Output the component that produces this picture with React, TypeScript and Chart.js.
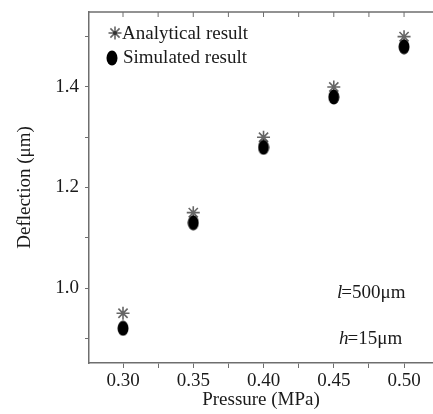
import React, { useEffect, useRef } from "react";
import { Chart, registerables } from "chart.js";

Chart.register(...registerables);

const pressures = [0.3, 0.35, 0.4, 0.45, 0.5];
const analytical = [0.95, 1.15, 1.3, 1.4, 1.5];
const simulated = [0.92, 1.13, 1.28, 1.38, 1.48];
const seriesLabels = ["Analytical result", "Simulated result"];
const xTicks = [0.3, 0.325, 0.35, 0.375, 0.4, 0.425, 0.45, 0.475, 0.5];
const xLabeled = [0.3, 0.35, 0.4, 0.45, 0.5];
const yTicks = [0.9, 1.0, 1.1, 1.2, 1.3, 1.4, 1.5];
const yLabeled = [1.0, 1.2, 1.4];
const notes = ["500μm", "15μm"];
const noteVars = ["l", "h"];

const FONT = "'Liberation Serif', 'DejaVu Serif', serif";
const AXIS = "#6e6e6e";
const TEXT = "#1a1a1a";

function makeEllipse(): HTMLCanvasElement {
  const c = document.createElement("canvas");
  c.width = 12;
  c.height = 16;
  const g = c.getContext("2d")!;
  g.fillStyle = "#000";
  g.beginPath();
  g.ellipse(6, 8, 5.5, 7.5, 0, 0, Math.PI * 2);
  g.fill();
  return c;
}

function drawStar(ctx: CanvasRenderingContext2D, x: number, y: number) {
  ctx.save();
  ctx.strokeStyle = "#666";
  ctx.lineWidth = 1.6;
  const r = 6.5;
  for (let i = 0; i < 4; i++) {
    const a = (i * Math.PI) / 4;
    ctx.beginPath();
    ctx.moveTo(x - Math.cos(a) * r, y - Math.sin(a) * r);
    ctx.lineTo(x + Math.cos(a) * r, y + Math.sin(a) * r);
    ctx.stroke();
  }
  ctx.fillStyle = "#333";
  ctx.beginPath();
  ctx.arc(x, y, 2, 0, Math.PI * 2);
  ctx.fill();
  ctx.restore();
}

export default function App() {
  const ref = useRef<HTMLCanvasElement | null>(null);
  useEffect(() => {
    if (!ref.current) return;
    const ellipse = makeEllipse();

    const overlay = {
      id: "overlay",
      afterDraw(chart: any) {
        const ctx = chart.ctx as CanvasRenderingContext2D;
        const { left, right, top } = chart.chartArea;
        const xs = chart.scales.x;
        ctx.save();
        // top border
        ctx.strokeStyle = AXIS;
        ctx.lineWidth = 1.5;
        ctx.beginPath();
        ctx.moveTo(left, top);
        ctx.lineTo(right, top);
        ctx.stroke();
        // top inward ticks
        ctx.lineWidth = 1;
        xTicks.forEach((v) => {
          const px = xs.getPixelForValue(v);
          ctx.beginPath();
          ctx.moveTo(px, top);
          ctx.lineTo(px, top + 5);
          ctx.stroke();
        });
        // legend
        ctx.fillStyle = TEXT;
        ctx.font = `19px ${FONT}`;
        ctx.textBaseline = "alphabetic";
        ctx.textAlign = "left";
        drawStar(ctx, left + 26, top + 21);
        ctx.fillText(seriesLabels[0], left + 33, top + 27);
        ctx.drawImage(ellipse, left + 17, top + 38);
        ctx.fillStyle = TEXT;
        ctx.fillText(seriesLabels[1], left + 34, top + 51);
        // annotations
        const drawNote = (v: string, rest: string, x: number, y: number) => {
          ctx.font = `italic 19px ${FONT}`;
          ctx.fillText(v, x, y);
          const w = ctx.measureText(v).width;
          ctx.font = `19px ${FONT}`;
          ctx.fillText("=" + rest, x + w - 1, y);
        };
        drawNote(noteVars[0], notes[0], 337, 298);
        drawNote(noteVars[1], notes[1], 339, 344);
        ctx.restore();
      },
    };

    const chart = new Chart(ref.current, {
      type: "scatter",
      data: {
        datasets: [
          {
            label: seriesLabels[0],
            data: pressures.map((p, i) => ({ x: p, y: analytical[i] })),
            pointStyle: "star",
            pointRadius: 6.5,
            pointBorderWidth: 1.6,
            borderColor: "#666",
            backgroundColor: "#666",
            order: 1,
          },
          {
            label: seriesLabels[1],
            data: pressures.map((p, i) => ({ x: p, y: simulated[i] })),
            pointStyle: ellipse as any,
            pointRadius: 6,
            borderColor: "#000",
            backgroundColor: "#000",
            order: 0,
          },
        ],
      },
      options: {
        animation: false,
        responsive: false,
        maintainAspectRatio: false,
        layout: { autoPadding: false, padding: { top: 12, right: 0, left: 0, bottom: 0 } },
        plugins: { legend: { display: false }, tooltip: { enabled: false } },
        scales: {
          x: {
            type: "linear",
            min: 0.2758,
            max: 0.5206,
            afterBuildTicks: (s: any) => {
              s.ticks = xTicks.map((v) => ({ value: v }));
            },
            afterFit: (s: any) => {
              s.height = 51;
              s.paddingLeft = 0;
              s.paddingRight = 0;
            },
            ticks: {
              autoSkip: false,
              maxRotation: 0,
              padding: 2,
              color: TEXT,
              font: { family: FONT, size: 19 },
              callback: (v: any) =>
                xLabeled.some((t) => Math.abs(t - v) < 1e-6) ? Number(v).toFixed(2) : "",
            },
            grid: {
              drawOnChartArea: false,
              drawTicks: true,
              tickLength: 5,
              color: AXIS,
            },
            border: { color: AXIS, width: 1.5 },
            title: {
              display: true,
              text: "Pressure (MPa)",
              color: TEXT,
              font: { family: FONT, size: 19 },
              padding: { top: 0, bottom: 3 },
            },
          },
          y: {
            type: "linear",
            min: 0.851,
            max: 1.549,
            afterBuildTicks: (s: any) => {
              s.ticks = yTicks.map((v) => ({ value: v }));
            },
            afterFit: (s: any) => {
              s.width = 89;
              s.paddingTop = 0;
              s.paddingBottom = 0;
            },
            ticks: {
              autoSkip: false,
              padding: 6,
              color: TEXT,
              font: { family: FONT, size: 19 },
              callback: (v: any) =>
                yLabeled.some((t) => Math.abs(t - v) < 1e-6) ? Number(v).toFixed(1) : "",
            },
            grid: {
              drawOnChartArea: false,
              drawTicks: true,
              tickLength: 4,
              color: AXIS,
            },
            border: { color: AXIS, width: 1.5 },
            title: {
              display: true,
              text: "Deflection (μm)",
              color: TEXT,
              font: { family: FONT, size: 19 },
              padding: { top: 14, bottom: 0 },
            },
          },
        },
      },
      plugins: [overlay],
    });
    return () => chart.destroy();
  }, []);

  return (
    <div style={{ position: "fixed", left: 0, top: 0, width: 433, height: 414, background: "#fff" }}>
      <canvas ref={ref} width={433} height={414} style={{ display: "block" }} />
    </div>
  );
}
